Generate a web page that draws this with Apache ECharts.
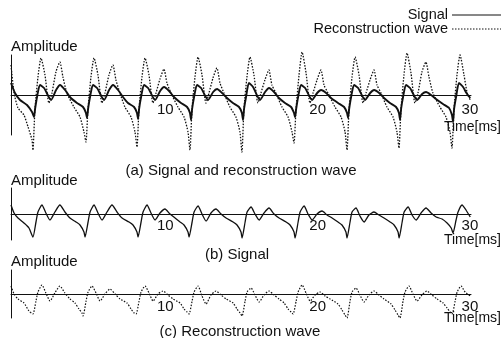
<!DOCTYPE html>
<html>
<head>
<meta charset="utf-8">
<script src="https://cdn.jsdelivr.net/npm/echarts@6/dist/echarts.min.js"></script>
<style>
  html, body { margin: 0; padding: 0; background: #fff; }
  #chart { width: 502px; height: 338px; }
</style>
</head>
<body>
<div id="chart"></div>
<script>
// x: time [ms], y: amplitude (arbitrary units)
var xTicks = [10, 20, 30];

// (a) signal
var signalA = [
  [0.00,12],[0.26,2],[0.59,-5],[1.05,-10],[1.38,-17],[1.51,-22],
  [1.58,-14],[1.71,-2],[1.90,10],[2.17,7],[2.63,-5],[2.96,5],[3.22,10],[3.55,5],[3.87,-2],[4.33,-8],[4.73,-12],[4.92,-18],[4.99,-23],
  [5.06,-14],[5.19,-2],[5.38,10],[5.65,7],[6.11,-5],[6.44,5],[6.70,10],[7.03,5],[7.35,-2],[7.68,-8],[8.08,-12],[8.27,-18],[8.34,-24],
  [8.41,-14],[8.54,-2],[8.73,10],[9.00,7],[9.46,-5],[9.79,4],[10.05,8],[10.38,4],[10.70,-2],[11.16,-8],[11.56,-12],[11.75,-18],[11.82,-25],
  [11.89,-14],[12.02,-2],[12.21,10],[12.48,7],[12.94,-5],[13.27,3],[13.53,6],[13.86,2],[14.18,-3],[14.57,-8],[14.97,-12],[15.16,-18],[15.23,-25],
  [15.30,-14],[15.43,-2],[15.62,12],[15.89,8],[16.35,-5],[16.68,3],[16.94,7],[17.27,3],[17.59,-3],[17.99,-8],[18.39,-12],[18.58,-18],[18.65,-22],
  [18.72,-14],[18.85,-2],[19.04,10],[19.31,7],[19.77,-5],[20.10,2],[20.36,5],[20.69,2],[21.01,-3],[21.47,-8],[21.87,-12],[22.06,-18],[22.13,-23],
  [22.20,-14],[22.33,-2],[22.52,10],[22.79,7],[23.25,-5],[23.58,2],[23.84,5],[24.17,2],[24.49,-3],[24.88,-8],[25.28,-12],[25.47,-18],[25.54,-25],
  [25.61,-14],[25.74,-2],[25.93,10],[26.20,7],[26.66,-5],[26.99,1],[27.25,3],[27.58,0],[27.90,-4],[28.36,-9],[28.76,-13],[28.95,-20],[29.02,-27],
  [29.09,-14],[29.22,-2],[29.41,12],[29.68,8],[29.90,2],[30.15,-3]
];

// (a) reconstruction wave
var reconA = [
  [0.00,30],[0.20,2],[0.46,-13],[0.85,-20],[1.12,-32],[1.38,-45],[1.44,-55],
  [1.57,-15],[1.77,18],[1.97,37],[2.23,20],[2.49,-8],[2.69,2],[2.95,23],[3.21,33],[3.41,18],[3.67,2],[4.13,-12],[4.53,-22],[4.79,-37],[4.92,-47],
  [5.05,-15],[5.25,18],[5.45,37],[5.71,20],[5.97,-8],[6.17,2],[6.43,20],[6.69,30],[6.89,15],[7.15,2],[7.48,-12],[7.88,-22],[8.14,-37],[8.27,-52],
  [8.40,-15],[8.60,18],[8.80,37],[9.06,20],[9.32,-8],[9.52,2],[9.78,16],[10.04,26],[10.24,12],[10.50,2],[10.96,-12],[11.36,-22],[11.62,-37],[11.75,-55],
  [11.88,-15],[12.08,18],[12.28,38],[12.54,20],[12.80,-8],[13.00,2],[13.26,17],[13.52,27],[13.72,12],[13.98,2],[14.37,-12],[14.77,-22],[15.03,-37],[15.16,-57],
  [15.29,-15],[15.49,18],[15.69,38],[15.95,20],[16.21,-8],[16.41,2],[16.67,15],[16.93,25],[17.13,10],[17.39,2],[17.79,-12],[18.19,-22],[18.45,-37],[18.58,-48],
  [18.71,-15],[18.91,20],[19.11,43],[19.37,22],[19.63,-8],[19.83,2],[20.09,15],[20.35,25],[20.55,10],[20.81,2],[21.27,-12],[21.67,-22],[21.93,-37],[22.06,-55],
  [22.19,-15],[22.39,18],[22.59,38],[22.85,20],[23.11,-8],[23.31,2],[23.57,15],[23.83,25],[24.03,10],[24.29,2],[24.68,-12],[25.08,-22],[25.34,-37],[25.47,-53],
  [25.60,-15],[25.80,20],[26.00,42],[26.26,22],[26.52,-8],[26.72,2],[26.98,23],[27.24,33],[27.44,18],[27.70,2],[28.16,-12],[28.56,-22],[28.82,-37],[28.95,-53],
  [29.08,-15],[29.28,20],[29.48,40],[29.74,20],[29.95,2],[30.15,-5]
];

// (b) signal
var signalB = [
  [0.00,9],[0.20,1],[0.46,-4],[0.85,-9],[1.18,-14],[1.44,-23],
  [1.64,-8],[1.77,2],[2.03,9],[2.29,1],[2.56,-6],[2.88,2],[3.21,9],[3.54,2],[3.87,-4],[4.27,-8],[4.53,-11],[4.79,-18],[4.86,-23],
  [5.06,-8],[5.19,2],[5.45,9],[5.71,1],[5.98,-6],[6.30,2],[6.63,9],[6.96,2],[7.29,-4],[7.75,-8],[8.01,-11],[8.27,-18],[8.34,-23],
  [8.54,-8],[8.67,2],[8.93,9],[9.19,1],[9.46,-6],[9.78,1],[10.11,5],[10.44,0],[10.77,-4],[11.10,-8],[11.36,-11],[11.62,-18],[11.69,-23],
  [11.89,-8],[12.02,2],[12.28,8],[12.54,0],[12.81,-7],[13.13,1],[13.46,5],[13.79,0],[14.12,-4],[14.58,-8],[14.84,-11],[15.10,-18],[15.17,-24],
  [15.37,-8],[15.50,2],[15.76,7],[16.02,0],[16.29,-6],[16.61,1],[16.94,6],[17.27,0],[17.60,-4],[18.06,-8],[18.32,-11],[18.58,-18],[18.65,-24],
  [18.85,-8],[18.98,2],[19.24,8],[19.50,0],[19.77,-6],[20.09,0],[20.42,3],[20.75,-1],[21.08,-4],[21.47,-8],[21.73,-11],[21.99,-18],[22.06,-24],
  [22.26,-8],[22.39,2],[22.65,6],[22.91,-2],[23.18,-8],[23.50,-1],[23.83,2],[24.16,-1],[24.49,-4],[24.89,-8],[25.15,-11],[25.41,-18],[25.48,-24],
  [25.68,-8],[25.81,2],[26.07,7],[26.33,-1],[26.60,-6],[26.92,1],[27.25,6],[27.58,1],[27.91,-3],[28.30,-5],[28.63,-9],[28.90,-14],[29.02,-19],
  [29.22,-6],[29.35,2],[29.61,9],[29.87,4],[30.15,-3]
];

// (c) reconstruction wave
var reconC = [
  [0.00,8],[0.20,0],[0.46,-5],[0.85,-9],[1.18,-17],[1.44,-20],
  [1.64,-7],[1.77,2],[2.03,9],[2.29,1],[2.56,-7],[2.88,1],[3.21,8],[3.54,1],[3.87,-5],[4.20,-9],[4.46,-15],[4.66,-19],[4.73,-22],
  [4.93,-7],[5.06,2],[5.32,8],[5.58,1],[5.85,-7],[6.17,0],[6.50,5],[6.83,0],[7.16,-5],[7.62,-9],[7.88,-15],[8.08,-19],[8.21,-20],
  [8.41,-7],[8.54,2],[8.80,8],[9.06,1],[9.33,-7],[9.65,0],[9.98,3],[10.31,-1],[10.64,-5],[11.10,-9],[11.36,-15],[11.56,-18],[11.69,-20],
  [11.89,-7],[12.02,2],[12.28,8],[12.54,-2],[12.81,-10],[13.13,-1],[13.46,3],[13.79,-1],[14.12,-5],[14.58,-9],[14.84,-15],[15.04,-19],[15.17,-22],
  [15.37,-7],[15.50,2],[15.76,6],[16.02,-1],[16.29,-8],[16.61,-1],[16.94,3],[17.27,-1],[17.60,-5],[17.93,-9],[18.19,-15],[18.39,-18],[18.52,-20],
  [18.72,-7],[18.85,2],[19.11,9],[19.37,1],[19.64,-7],[19.96,-1],[20.29,2],[20.62,-2],[20.95,-5],[21.47,-10],[21.73,-16],[21.93,-21],[22.06,-24],
  [22.26,-7],[22.39,2],[22.65,6],[22.91,-1],[23.18,-8],[23.50,-1],[23.83,3],[24.16,-1],[24.49,-5],[24.95,-10],[25.21,-16],[25.41,-21],[25.54,-24],
  [25.74,-7],[25.87,2],[26.13,8],[26.39,0],[26.66,-7],[26.98,-1],[27.31,3],[27.64,-1],[27.97,-5],[28.37,-9],[28.63,-14],[28.83,-18],[28.96,-20],
  [29.16,-7],[29.29,2],[29.55,8],[29.81,2],[30.15,-2]
];

var captions = ['(a) Signal and reconstruction wave', '(b) Signal', '(c) Reconstruction wave'];

var FONT = '"Liberation Sans", Arial, sans-serif';
var INK = '#111';

var myChart = echarts.init(document.getElementById('chart'), null, { renderer: 'canvas' });

function xAxisFor(idx) {
  return {
    gridIndex: idx, type: 'value', min: 0, max: 30.2, interval: 10,
    axisLine: { onZero: true, lineStyle: { color: INK, width: 1 } },
    axisTick: { show: false },
    splitLine: { show: false },
    axisLabel: { show: false }
  };
}
function yAxisFor(idx, r) {
  return {
    gridIndex: idx, type: 'value', min: -r, max: r,
    axisLine: { show: true, onZero: false, lineStyle: { color: INK, width: 1 } },
    axisTick: { show: false }, axisLabel: { show: false }, splitLine: { show: false }
  };
}
function text(t, x, y, align, size) {
  return {
    type: 'text', x: x, y: y,
    style: { text: t, font: (size || 14) + 'px ' + FONT, fill: INK, textAlign: align || 'left', textVerticalAlign: 'middle' }
  };
}

var option = {
  animation: false,
  backgroundColor: '#fff',
  grid: [
    { left: 11, width: 460, top: 55, height: 80 },
    { left: 11, width: 460, top: 188, height: 52 },
    { left: 11, width: 460, top: 270, height: 48 }
  ],
  xAxis: [xAxisFor(0), xAxisFor(1), xAxisFor(2)],
  yAxis: [yAxisFor(0, 40), yAxisFor(1, 26), yAxisFor(2, 24)],
  series: [
    { name: 'Signal', type: 'line', xAxisIndex: 0, yAxisIndex: 0, data: signalA, showSymbol: false, clip: false, smooth: 0.2,
      lineStyle: { color: INK, width: 1.9 } },
    { name: 'Reconstruction wave', type: 'line', xAxisIndex: 0, yAxisIndex: 0, data: reconA, showSymbol: false, clip: false, smooth: 0.2,
      lineStyle: { color: INK, width: 1.3, type: [1.5, 1.5] } },
    { name: 'Signal', type: 'line', xAxisIndex: 1, yAxisIndex: 1, data: signalB, showSymbol: false, clip: false, smooth: 0.2,
      lineStyle: { color: INK, width: 1.3 } },
    { name: 'Reconstruction wave', type: 'line', xAxisIndex: 2, yAxisIndex: 2, data: reconC, showSymbol: false, clip: false, smooth: 0.2,
      lineStyle: { color: INK, width: 1.2, type: [1.5, 1.5] } }
  ]
};

myChart.setOption(option);

// tick labels sit just under the zero line of each panel
var labelDrop = [15, 12, 13];
var tickTexts = [];
for (var g = 0; g < 3; g++) {
  for (var k = 0; k < xTicks.length; k++) {
    var p = myChart.convertToPixel({ xAxisIndex: g, yAxisIndex: g }, [xTicks[k], 0]);
    tickTexts.push(text(String(xTicks[k]), p[0] + 2, p[1] + labelDrop[g], 'center', 15));
  }
}

myChart.setOption({
  graphic: tickTexts.concat([
    // legend
    text('Signal', 448, 15, 'right', 14.5),
    text('Reconstruction wave', 448, 29, 'right', 14.5),
    { type: 'line', shape: { x1: 452, y1: 15, x2: 501, y2: 15 }, style: { stroke: INK, lineWidth: 1 } },
    { type: 'line', shape: { x1: 452, y1: 29, x2: 501, y2: 29 }, style: { stroke: INK, lineWidth: 1, lineDash: [1.5, 1.5] } },
    // axis names
    text('Amplitude', 11, 47, 'left', 15),
    text('Amplitude', 11, 181, 'left', 15),
    text('Amplitude', 11, 262, 'left', 15),
    text('Time[ms]', 501, 127, 'right'),
    text('Time[ms]', 501, 240, 'right'),
    text('Time[ms]', 501, 318, 'right'),
    // captions
    text(captions[0], 241, 171, 'center', 15),
    text(captions[1], 237, 255, 'center', 15),
    text(captions[2], 240, 332, 'center', 15)
  ])
});
</script>
</body>
</html>
